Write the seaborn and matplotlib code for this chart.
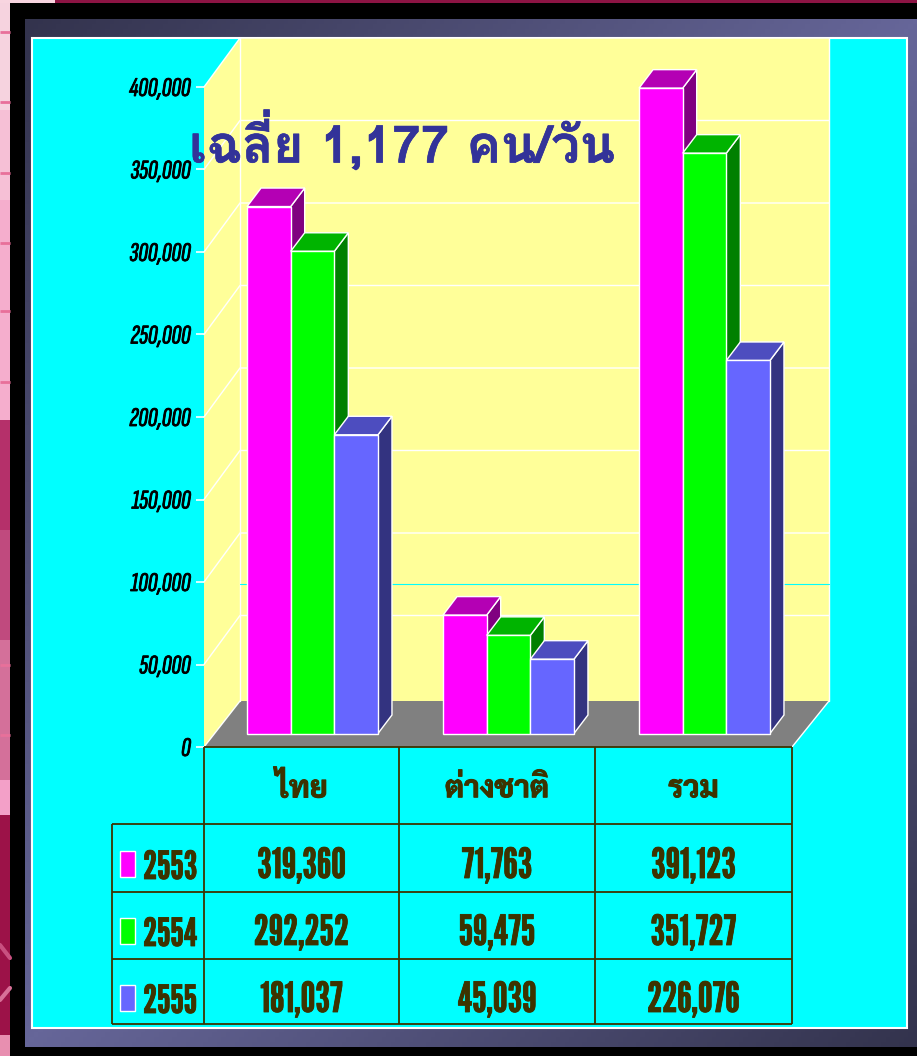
import numpy as np
import pandas as pd
import seaborn as sns
import matplotlib
matplotlib.use("Agg")
import matplotlib.pyplot as plt
import matplotlib.patheffects as pe
from matplotlib.patches import Polygon, Rectangle

groups = ['ไทย', 'ต่างชาติ', 'รวม']
years = ['2553', '2554', '2555']
values_2553 = [319360, 71763, 391123]
values_2554 = [292252, 59475, 351727]
values_2555 = [181037, 45039, 226076]
yticks = [0, 50000, 100000, 150000, 200000, 250000, 300000, 350000, 400000]
title = 'เฉลี่ย 1,177 คน/วัน'

front_colors = ['#FF00FF', '#00FF00', '#6666FF']
side_colors = ['#800080', '#008000', '#333380']
top_colors = ['#B400B4', '#00B400', '#4D4DBF']

W, H = 917, 1056
NUM_FONT = ['League Gothic', 'Liberation Sans Narrow', 'DejaVu Sans']
TICK_FONT = ['Sofia Sans Extra Condensed', 'Fira Sans Extra Condensed', 'DejaVu Sans']
THAI_FONT = ['Sarabun', 'Noto Sans Thai', 'DejaVu Sans']
TITLE_FONT = ['Loma', 'Noto Sans Thai Looped', 'DejaVu Sans']
INK = '#3D3300'

sns.set_theme(style='white')


def fatten(color, width):
    return [pe.withStroke(linewidth=width, foreground=color)]


df = pd.DataFrame({
    'group': groups * 3,
    'year': [y for y in years for _ in groups],
    'value': values_2553 + values_2554 + values_2555,
})

fig = plt.figure(figsize=(W / 100, H / 100), dpi=100, facecolor='black')

# backdrop in pixel coordinates
bg = fig.add_axes([0, 0, 1, 1])
bg.set_xlim(0, W)
bg.set_ylim(H, 0)
bg.axis('off')

# slide background showing on the left edge
strip = [(0, 110, '#F6D3DF'), (110, 200, '#F6C0D6'), (200, 420, '#F5AECD'), (420, 530, '#B5306A'),
         (530, 640, '#C04A7E'), (640, 780, '#D4709A'), (780, 815, '#F3A0C8'), (815, 1035, '#9C1248'),
         (1035, 1056, '#E88FB0')]
for y0, y1, c in strip:
    bg.add_patch(Rectangle((0, y0), 10, y1 - y0, color=c, lw=0))
bg.hlines([32, 102, 173, 243, 311, 382, 665, 735], 0, 10, color='#E8709A', lw=2)
bg.plot([0, 10], [945, 958], color='#C85080', lw=3)
bg.plot([0, 10], [1000, 988], color='#D87098', lw=3)
bg.add_patch(Rectangle((0, 0), 55, 3, color='#F8D5E0', lw=0))
bg.add_patch(Rectangle((55, 0), W - 55, 3, color='#8C1444', lw=0))

# frame with diagonal gradient
xx, yy = np.meshgrid(np.linspace(0, 1, 200), np.linspace(0, 1, 200))
t = 1 - np.abs(xx + yy - 1)
dark, light = np.array([0x33, 0x33, 0x4D]), np.array([0x66, 0x66, 0x99])
grad = dark + (light - dark) * t[..., None]
bg.imshow(grad / 255, extent=(25, W, 1047, 19), aspect='auto', zorder=1)
bg.set_xlim(0, W)
bg.set_ylim(H, 0)
bg.add_patch(Rectangle((32, 38), 875, 990, fc='#00FFFF', ec='white', lw=1.5, zorder=2))

# back wall, side wall and floor
bg.add_patch(Polygon([(240, 38), (829, 38), (829, 701), (240, 701)], fc='#FFFF99', ec='none', zorder=3))
bg.add_patch(Polygon([(204, 87), (240, 38), (240, 701), (204, 747)], fc='#FFFF99', ec='none', zorder=3))
bg.add_patch(Polygon([(204, 747), (240, 701), (829, 701), (792, 747)], fc='#808080', ec='none', zorder=3))
for v in yticks[1:]:
    y = 747 - 660 * v / 400000
    bg.plot([204, 240, 829], [y, y - 49, y - 49], color='white', lw=1, zorder=4)
bg.plot([240, 240], [38, 701], color='white', lw=1, zorder=4)
bg.plot([204, 240], [747, 701], color='white', lw=1, zorder=4)
bg.plot([792, 829], [747, 701], color='white', lw=1, zorder=4)
bg.plot([829, 829], [38, 701], color='white', lw=1, zorder=4)
bg.plot([240, 829], [584, 584], color='#00FFFF', lw=0.8, zorder=4)

# axes with the value ticks, on the front plane
ax_wall = fig.add_axes([204 / W, (H - 747) / H, 588 / W, 660 / H])
ax_wall.patch.set_visible(False)
sns.despine(ax=ax_wall, left=True, bottom=True)
ax_wall.set_xticks([])
ax_wall.set_ylim(0, 400000)
ax_wall.set_yticks(yticks)
ax_wall.set_yticklabels([f'{v:,}' for v in yticks], fontsize=19.5, fontweight='bold',
                        fontstyle='italic', family=TICK_FONT, color='black',
                        path_effects=fatten('black', 0.6))
ax_wall.tick_params(axis='y', left=True, length=6, width=1.2, color='white', pad=3.6)

# bars, shifted into the chart depth
ax = fig.add_axes([214.5 / W, (H - 733.5) / H, 588 / W, 660 / H])
sns.barplot(df, x='group', y='value', hue='year', hue_order=years, order=groups,
            palette=front_colors, saturation=1, width=0.668, gap=0,
            edgecolor='white', linewidth=1, legend=False, ax=ax)
ax.set_xlim(-0.5, 2.5)
ax.set_ylim(0, 400000)
ax.axis('off')

dx = 14 / 196
dy = 18.5 / 660 * 400000
for i, cont in enumerate(ax.containers):
    for bar in cont:
        x0, x1 = bar.get_x(), bar.get_x() + bar.get_width()
        h = bar.get_height()
        bar.set_zorder(4 + 2 * i)
        bar.set_clip_on(False)
        ax.add_patch(Polygon([(x1, h), (x1 + dx, h + dy), (x1 + dx, dy), (x1, 0)],
                             fc=side_colors[i], ec='white', lw=1, zorder=3 + 2 * i, clip_on=False))
        ax.add_patch(Polygon([(x0, h), (x0 + dx, h + dy), (x1 + dx, h + dy), (x1, h)],
                             fc=top_colors[i], ec='white', lw=1, zorder=3 + 2 * i, clip_on=False))

# overlay for the title and data table
top = fig.add_axes([0, 0, 1, 1])
top.set_xlim(0, W)
top.set_ylim(H, 0)
top.axis('off')

top.text(402, 141, title, fontsize=37, fontweight='bold', family=TITLE_FONT,
         color='#333399', ha='center', va='center', path_effects=fatten('#333399', 0.5))

col_x = [204, 399, 595, 792]
row_y = [747, 824, 892, 959, 1024]
top.vlines(col_x, 747, 1024, color=INK, lw=1.3)
top.vlines(112, 824, 1024, color=INK, lw=1.3)
top.hlines(row_y[0], 204, 792, color=INK, lw=1.3)
top.hlines(row_y[1:], 112, 792, color=INK, lw=1.3)

centers = [(col_x[i] + col_x[i + 1]) / 2 for i in range(3)]
for cx, g in zip(centers, groups):
    top.text(cx, 789, g, fontsize=22, fontweight='bold', family=THAI_FONT, color=INK,
             ha='center', va='center', path_effects=fatten(INK, 0.7))

rows = [values_2553, values_2554, values_2555]
text_y = [867, 934, 1001]
for r, vals in enumerate(rows):
    y = text_y[r]
    top.add_patch(Rectangle((120, y - 16), 15, 26, fc=front_colors[r], ec='white', lw=1))
    top.text(143, y + 1, years[r], fontsize=28, family=NUM_FONT, color=INK, ha='left', va='center',
             path_effects=fatten(INK, 0.6))
    for cx, v in zip(centers, vals):
        top.text(cx, y, f'{v:,}', fontsize=30, family=NUM_FONT, color=INK, ha='center', va='center',
                 path_effects=fatten(INK, 0.6))

fig.savefig('out.png', dpi=100, facecolor='black')
